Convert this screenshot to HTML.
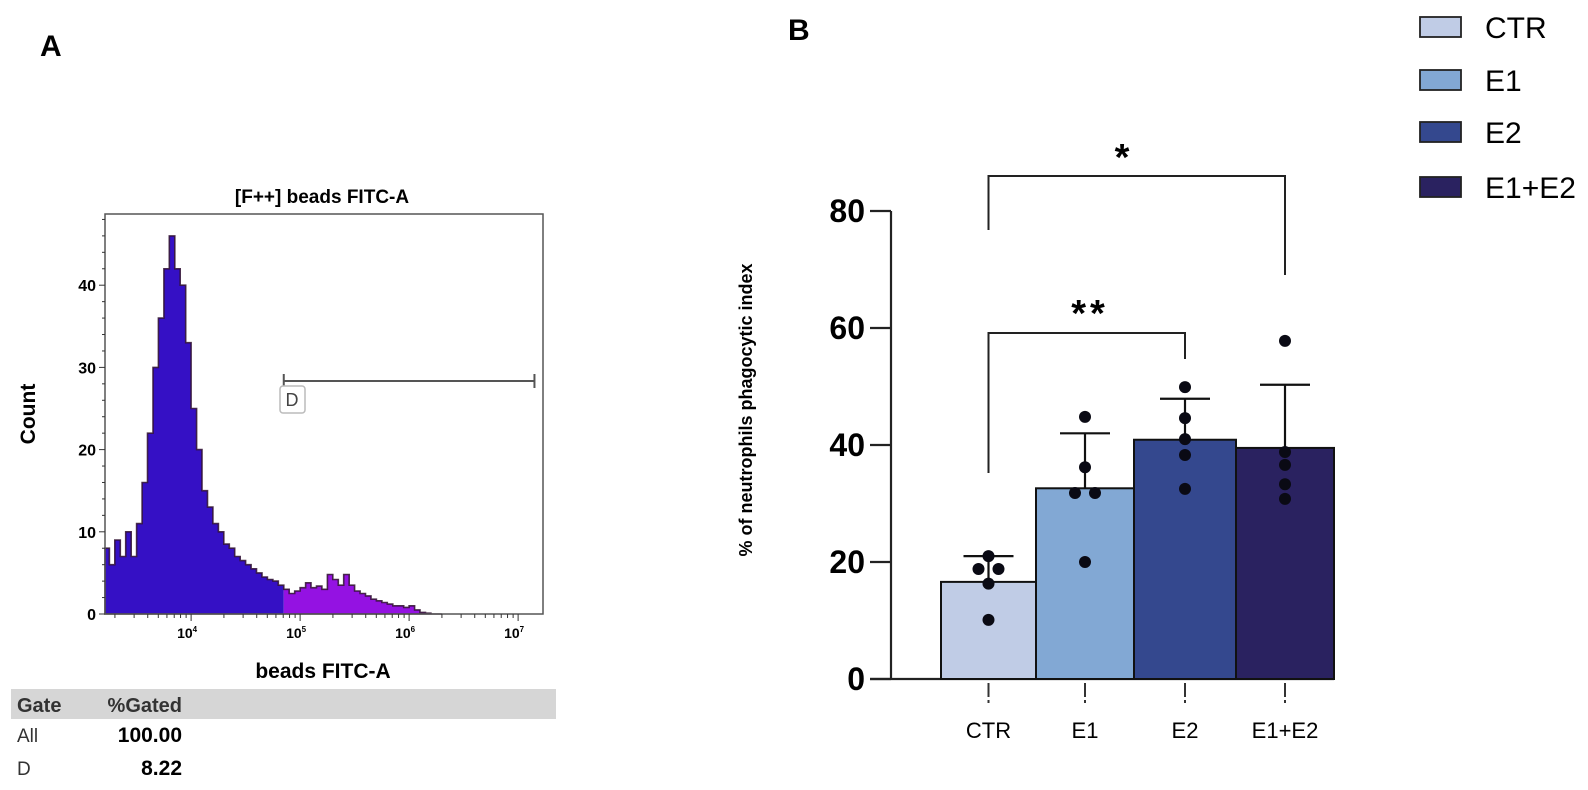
<!DOCTYPE html>
<html><head><meta charset="utf-8"><style>
html,body{margin:0;padding:0;background:#fff;width:1588px;height:790px;overflow:hidden}
svg{display:block;font-family:"Liberation Sans",sans-serif}
</style></head><body>
<svg id="fig" width="1588" height="790" viewBox="0 0 1588 790" xmlns="http://www.w3.org/2000/svg">
<text x="40" y="56" font-size="30" font-weight="bold">A</text>
<text x="788" y="40" font-size="30" font-weight="bold">B</text>
<g id="hist"></g>
<g id="bars"></g>
</svg>
<script>
// ---------- Histogram data ----------
const histLogStart = 3.2;
const histBinWidth = 0.05;
const histCounts = [8,6,9,7,10,7,11,16,22,30,36,42,46,42,40,33,25,20,15,13,11,10,8.5,8,7,6.5,6,5.5,5,4.5,4.2,4,3.5,3,2.5,2.8,3.2,3.8,3.2,3.4,3.0,4.8,4.2,3.5,4.8,3.5,2.8,2.5,2.2,1.8,1.6,1.4,1.2,1.0,1.0,0.8,1.0,0.5,0.2,0.1,0,0];
const histYTicks = [0,10,20,30,40];
const histXTicks = [4,5,6,7];
const gateLog = [4.85, 7.15];
const gateTable = [["All","100.00"],["D","8.22"]];

// ---------- Bar chart data ----------
const groups = ["CTR","E1","E2","E1+E2"];
const means = [16.6,32.6,40.9,39.5];
const sds = [21,42,47.9,50.3];
const pointsCTR = [21,18.8,18.8,16.3,10.1];
const pointsE1 = [44.8,36.2,31.8,31.8,20];
const pointsE2 = [49.9,44.6,41,38.3,32.5];
const pointsE1E2 = [57.8,38.8,36.6,33.3,30.8];
const barYTicks = [0,20,40,60,80];
const barColors = ["#c0cce6","#82a8d4","#34488e","#2a2260"];

const NS="http://www.w3.org/2000/svg";
function mk(parent,tag,attrs,text){const e=document.createElementNS(NS,tag);for(const k in attrs)e.setAttribute(k,attrs[k]);if(text!==undefined)e.textContent=text;parent.appendChild(e);return e;}

// ===== Histogram =====
(function(){
const g=document.getElementById('hist');
const L=105,R=543,T=214,B=614;
const xs=v=>L+(v-3.21)*109;
const ys=c=>B-c*8.22;
let t;
t=mk(g,'text',{x:322,y:203,'font-size':19,'font-weight':'bold','text-anchor':'middle'},'[F++] beads FITC-A');

const defs=mk(g,'defs',{});
const c1=mk(defs,'clipPath',{id:'cl1'});mk(c1,'rect',{x:L,y:T,width:xs(gateLog[0])-L,height:B-T});
const c2=mk(defs,'clipPath',{id:'cl2'});mk(c2,'rect',{x:xs(gateLog[0]),y:T,width:R-xs(gateLog[0]),height:B-T});
let d='M'+L+','+B;
histCounts.forEach((c,i)=>{const x0=Math.max(L,xs(histLogStart+i*histBinWidth)),x1=xs(histLogStart+(i+1)*histBinWidth);d+=' L'+x0.toFixed(1)+','+ys(c).toFixed(1)+' L'+x1.toFixed(1)+','+ys(c).toFixed(1);});
d+=' L'+xs(histLogStart+histCounts.length*histBinWidth).toFixed(1)+','+B+' Z';
let p=mk(g,'path',{d:d,fill:'#3510c5','clip-path':'url(#cl1)'});

p=mk(g,'path',{d:d,fill:'#9412e2','clip-path':'url(#cl2)'});

p=mk(g,'path',{d:d,fill:'none',stroke:'#301030','stroke-width':1.6,opacity:0.85});

const fr=mk(g,'rect',{x:L,y:T,width:R-L,height:B-T,fill:'none',stroke:'#555','stroke-width':1.5});

for(let c=0;c<=48;c+=2){mk(g,'line',{x1:L-(c%10==0?6:3),x2:L,y1:ys(c),y2:ys(c),stroke:'#333','stroke-width':1});}
histYTicks.forEach(v=>{t=mk(g,'text',{x:96,y:ys(v)+6,'font-size':16,'font-weight':'bold','text-anchor':'end'},String(v));
});
for(let k=3;k<7;k++)for(let m=1;m<10;m++){const lv=k+Math.log10(m);if(lv<3.21||lv>7.2)continue;mk(g,'line',{x1:xs(lv),x2:xs(lv),y1:B,y2:B+(m==1?7:4),stroke:'#333','stroke-width':1});}
mk(g,'line',{x1:xs(7),x2:xs(7),y1:B,y2:B+7,stroke:'#333'});
histXTicks.forEach(v=>{const tx=mk(g,'text',{x:xs(v)-4,y:B+24,'font-size':14,'font-weight':'bold','text-anchor':'middle'},'10');
mk(tx,'tspan',{dy:-6,'font-size':8},String(v));
});
t=mk(g,'text',{x:323,y:678,'font-size':21,'font-weight':'bold','text-anchor':'middle'},'beads FITC-A');

t=mk(g,'text',{x:0,y:0,'font-size':21,'font-weight':'bold','text-anchor':'middle',transform:'translate(35,414) rotate(-90)'},'Count');

const gl=mk(g,'line',{x1:xs(gateLog[0]),x2:xs(gateLog[1]),y1:381,y2:381,stroke:'#555','stroke-width':2});

mk(g,'line',{x1:xs(gateLog[0]),x2:xs(gateLog[0]),y1:374,y2:388,stroke:'#555','stroke-width':2});
mk(g,'line',{x1:xs(gateLog[1]),x2:xs(gateLog[1]),y1:374,y2:388,stroke:'#555','stroke-width':2});
const gb=mk(g,'rect',{x:280,y:386,width:25,height:27,rx:3,fill:'#fff',stroke:'#bbb','stroke-width':1.5});

t=mk(g,'text',{x:292,y:406,'font-size':18,fill:'#444','text-anchor':'middle'},'D');

const hb=mk(g,'rect',{x:11,y:689,width:545,height:30,fill:'#d6d6d6'});

t=mk(g,'text',{x:17,y:712,'font-size':20,'font-weight':'bold',fill:'#333'},'Gate');

t=mk(g,'text',{x:182,y:712,'font-size':20,'font-weight':'bold',fill:'#333','text-anchor':'end'},'%Gated');

gateTable.forEach((r,i)=>{const y=742+i*33;
t=mk(g,'text',{x:17,y:y,'font-size':19,fill:'#333'},r[0]);

t=mk(g,'text',{x:182,y:y,'font-size':21,'font-weight':'bold','text-anchor':'end'},r[1]);
});
})();

// ===== Bar chart =====
(function(){
const g=document.getElementById('bars');
const AX=891,Y0=679,PX=5.85;
const ys=v=>Y0-v*PX;
const barLeft=[941,1036,1134,1236],barRight=[1036,1134,1236,1334];
const cx=i=>(barLeft[i]+barRight[i])/2;
const pts=[pointsCTR,pointsE1,pointsE2,pointsE1E2];
let t,e;
e=mk(g,'line',{x1:AX,x2:AX,y1:ys(80),y2:Y0,stroke:'#222','stroke-width':2.2});

e=mk(g,'line',{x1:870,x2:barRight[3],y1:Y0,y2:Y0,stroke:'#222','stroke-width':2.2});

barYTicks.forEach(v=>{mk(g,'line',{x1:870,x2:AX,y1:ys(v),y2:ys(v),stroke:'#222','stroke-width':2.2});
t=mk(g,'text',{x:865,y:ys(v)+11,'font-size':32,'font-weight':'bold','text-anchor':'end'},String(v));
});
t=mk(g,'text',{x:0,y:0,'font-size':18,'font-weight':'bold','text-anchor':'middle',transform:'translate(752,410) rotate(-90)'},'% of  neutrophils phagocytic index');

groups.forEach((name,i)=>{
const b=mk(g,'rect',{x:barLeft[i],y:ys(means[i]),width:barRight[i]-barLeft[i],height:Y0-ys(means[i]),fill:barColors[i],stroke:'#111','stroke-width':2});

e=mk(g,'line',{x1:cx(i),x2:cx(i),y1:ys(means[i]),y2:ys(sds[i]),stroke:'#111','stroke-width':2.2});

mk(g,'line',{x1:cx(i)-25,x2:cx(i)+25,y1:ys(sds[i]),y2:ys(sds[i]),stroke:'#111','stroke-width':2.2});
pts[i].forEach((v,j)=>{let dx=0;const same=pts[i].filter(w=>w===v).length;if(same>1){dx=(pts[i].indexOf(v)===j)?-10:10;}
const c=mk(g,'circle',{cx:cx(i)+dx,cy:ys(v),r:6,fill:'#0a0a14'});
});
e=mk(g,'line',{x1:cx(i),x2:cx(i),y1:Y0+4,y2:Y0+26,stroke:'#333','stroke-width':2,'stroke-dasharray':'14 3 3 10'});

t=mk(g,'text',{x:cx(i),y:738,'font-size':22,'text-anchor':'middle'},name);

});
e=mk(g,'path',{d:`M${cx(0)},230 V176 H${cx(3)} V275`,fill:'none',stroke:'#222','stroke-width':2});

t=mk(g,'text',{x:1122,y:170,'font-size':38,'font-weight':'bold','text-anchor':'middle'},'*');

e=mk(g,'path',{d:`M${cx(0)},473 V333 H${cx(2)} V359`,fill:'none',stroke:'#222','stroke-width':2});

t=mk(g,'text',{x:1090,y:326,'font-size':38,'font-weight':'bold','text-anchor':'middle','letter-spacing':'4'},'**');

const ly=[17,70,122,177];
groups.forEach((name,i)=>{
const r=mk(g,'rect',{x:1420,y:ly[i],width:41,height:20,fill:barColors[i],stroke:'#222','stroke-width':1.8});

t=mk(g,'text',{x:1485,y:ly[i]+21,'font-size':30},name);

});
})();
</script>
</body></html>
